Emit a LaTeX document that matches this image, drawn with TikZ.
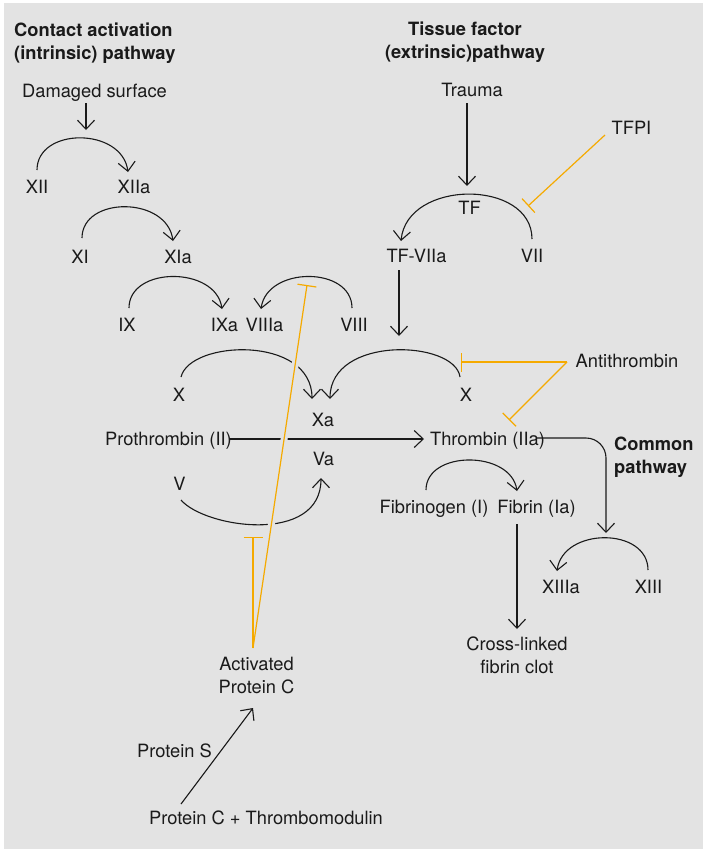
\documentclass[tikz,border=0pt]{standalone}
\usepackage{fontspec}
\setmainfont{TeX Gyre Heros}
\usetikzlibrary{arrows.meta,calc}
\definecolor{bgc}{HTML}{E3E3E3}
\definecolor{inh}{HTML}{F5AA00}
\definecolor{ink}{HTML}{1A1A1A}
\begin{document}
\begin{tikzpicture}[x=1pt,y=-1pt,
  lbl/.style={anchor=base, inner sep=0pt, font=\fontsize{18.3}{23}\selectfont, text=ink, align=center},
  ttl/.style={lbl, font=\fontsize{18.3}{23}\selectfont\bfseries},
  act/.style={draw=ink, line width=1.1pt, -{Straight Barb[length=9pt,width=17pt]}},
  inhib/.style={draw=inh, line width=1.2pt, -{Bar[width=19pt]}},
  halo/.style={draw=bgc, line width=7pt},
]
\useasboundingbox (0,0) rectangle (703,849);
\fill[bgc] (4,3) rectangle (703,849);

% titles (base = baseline of last line)
\node[ttl, align=left, anchor=base west] (tc) at (14,59) {Contact activation\\(intrinsic) pathway};
\node[ttl] (tt) at (465,58) {Tissue factor\\(extrinsic)pathway};
\node[ttl, align=left, anchor=base west] (tcm) at (614,473) {Common\\pathway};

% labels
\node[lbl] (Dam) at (94.5,97) {Damaged surface};
\node[lbl] (XII) at (37,193) {XII};
\node[lbl] (XIIa) at (134,193) {XIIa};
\node[lbl] (XI) at (80,263) {XI};
\node[lbl] (XIa) at (178,263) {XIa};
\node[lbl] (IX) at (127,331) {IX};
\node[lbl] (IXa) at (224.5,331) {IXa};
\node[lbl] (VIIIa) at (264.5,331) {VIIIa};
\node[lbl] (VIII) at (354,331) {VIII};
\node[lbl] (Xl) at (179,401) {X};
\node[lbl] (Xa) at (323,426) {Xa};
\node[lbl] (Xr) at (466,401) {X};
\node[lbl] (Anti) at (627,367) {Antithrombin};
\node[lbl] (Pro) at (168.5,445) {Prothrombin (II)};
\node[lbl] (Thr) at (487.5,445) {Thrombin (IIa)};
\node[lbl] (Va) at (323.5,465) {Va};
\node[lbl] (V) at (179.5,490) {V};
\node[lbl] (Fgn) at (434,513) {Fibrinogen (I)};
\node[lbl] (Fbn) at (536.5,513) {Fibrin (Ia)};
\node[lbl] (XIIIa) at (561,593) {XIIIa};
\node[lbl] (XIII) at (648.5,593) {XIII};
\node[lbl] (Clot) at (517,673) {Cross-linked\\fibrin clot};
\node[lbl] (APC) at (256.5,693) {Activated\\Protein C};
\node[lbl] (PS) at (174.5,757) {Protein S};
\node[lbl] (PCTM) at (266,824) {Protein C + Thrombomodulin};
\node[lbl] (Trauma) at (472,96) {Trauma};
\node[lbl] (TFPI) at (631.5,134) {TFPI};
\node[lbl] (TF) at (469.5,214) {TF};
\node[lbl] (TFVIIa) at (416.5,262) {TF-VIIa};
\node[lbl] (VII) at (532,262) {VII};

% activation connectors
\draw[act] ($(Dam.base)+(-8.5,6)$) -- ($(Dam.base)+(-8.5,33)$);
\draw[act] ($(XII.base)+(0,-23)$) .. controls (37,127) and (122,127) .. ($(XIIa.base)+(-6,-21)$);
\draw[act] ($(XI.base)+(2,-25)$) .. controls (82,196) and (167,196) .. ($(XIa.base)+(-5,-22)$);
\draw[act] ($(IX.base)+(2,-23)$) .. controls (129,266) and (216,266) .. ($(IXa.base)+(-2.5,-22)$);
\draw[act] ($(VIII.base)+(-2,-23)$) .. controls (352,266) and (267,266) .. ($(VIIIa.base)+(-3.5,-22)$);
\draw[act] ($(Xl.base)+(2,-24)$) .. controls (190,340) and (312,335) .. ($(Xa.base)+(-11,-27)$);
\draw[act] ($(Xr.base)+(-6,-24)$) .. controls (455,340) and (330,335) .. ($(Xa.base)+(7,-27)$);
\draw[act] ($(TFVIIa.base)+(-17.5,8)$) -- ($(Xr.base)+(-67,-65)$);
\draw[act] ($(Trauma.base)+(-5,7)$) -- ($(TF.base)+(-2.5,-28)$);
\draw[act] ($(VII.base)+(0,-23)$) .. controls (532,179) and (407,179) .. ($(TFVIIa.base)+(-15.5,-21)$);
\draw[act] ($(Pro.base)+(61.5,-6)$) -- ($(Thr.base)+(-63.5,-6)$);
\draw[act] ($(V.base)+(1.5,10)$) .. controls (205,528) and (321,545) .. ($(Va.base)+(-2.5,13)$);
\draw[act] ($(Fgn.base)+(-8,-23)$) .. controls (426,450) and (511,450) .. ($(Fbn.base)+(-19.5,-22)$);
\draw[act] ($(Fbn.base)+(-19.5,11)$) -- ($(Clot.base)+(0,-44)$);
\draw[act, rounded corners=20pt] ($(Thr.base)+(49.5,-7)$) -| ($(XIIIa.base)+(45,-60)$);
\draw[act] ($(XIII.base)+(-0.5,-23)$) .. controls (648,527) and (563,527) .. ($(XIIIa.base)+(-4,-22)$);
\draw[act] ($(PCTM.base)+(-85,-20)$) -- ($(APC.base)+(-3.5,15)$);

% inhibition connectors
\draw[inhib] ($(TFPI.base)+(-26.5,1)$) -- ($(VII.base)+(-4,-56)$);
\draw[inhib] ($(Anti.base)+(-60,-5)$) -- ($(Xr.base)+(-5,-39)$);
\draw[inhib] ($(Anti.base)+(-60,-5)$) -- ($(Thr.base)+(21.5,-25)$);
\draw[halo] ($(APC.base)+(-3.5,-45)$) -- ($(VIIIa.base)+(42.5,-46)$);
\draw[inhib] ($(APC.base)+(-3.5,-45)$) -- ($(VIIIa.base)+(42.5,-46)$);
\draw[inhib] ($(APC.base)+(-3.5,-45)$) -- ($(Va.base)+(-70.5,72)$);
\end{tikzpicture}
\end{document}
